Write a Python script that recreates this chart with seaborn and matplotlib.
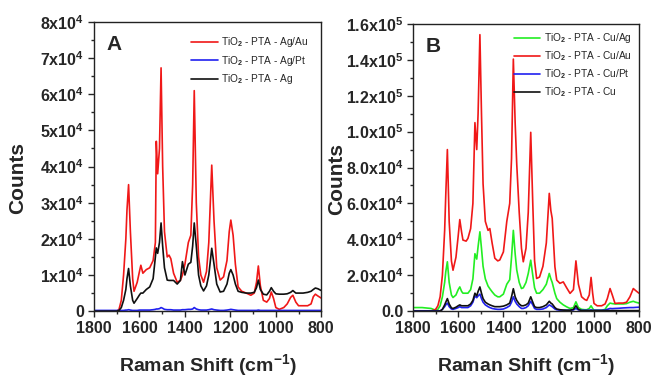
import numpy as np
import pandas as pd
import matplotlib
matplotlib.use("Agg")
import matplotlib.pyplot as plt
import seaborn as sns
from matplotlib.ticker import MultipleLocator

# ---- panel A data (counts in units of 1e4) ----
shift_a = [1800, 1750, 1700, 1690, 1680, 1670, 1660, 1655, 1648, 1640, 1630, 1624,
           1610, 1600, 1594, 1585, 1570, 1555, 1540, 1530, 1526, 1520, 1512, 1505,
           1498, 1490, 1478, 1470, 1462, 1450, 1434, 1420, 1411, 1400, 1385, 1374,
           1366, 1359, 1350, 1340, 1330, 1318, 1305, 1295, 1282, 1272, 1260, 1245,
           1230, 1215, 1205, 1198, 1188, 1178, 1166, 1150, 1130, 1110, 1095, 1085,
           1077, 1068, 1055, 1040, 1028, 1020, 1010, 1000, 985, 965, 950, 935,
           925, 912, 900, 880, 860, 845, 835, 826, 815, 800]
ag_au = [0, 0, 0, 0.05, 0.3, 1.0, 2.0, 2.8, 3.5, 2.2, 0.9, 0.55,
         0.8, 1.1, 1.27, 1.05, 1.15, 1.2, 1.4, 1.9, 4.7, 3.8, 4.5, 6.73,
         4.0, 2.2, 1.5, 1.55, 1.45, 1.05, 0.8, 0.85, 1.0, 1.3, 1.9, 2.1,
         3.5, 6.1, 3.0, 1.5, 1.0, 0.8, 1.1, 1.9, 4.04, 2.5, 1.2, 0.86,
         0.95, 1.4, 2.2, 2.52, 2.1, 1.3, 0.67, 0.55, 0.5, 0.44, 0.5, 0.8,
         1.25, 0.7, 0.3, 0.25, 0.35, 0.53, 0.35, 0.1, 0.05, 0.1, 0.2, 0.38,
         0.44, 0.25, 0.15, 0.15, 0.15, 0.2, 0.4, 0.47, 0.42, 0.36]
ag_pt = [0.02, 0.02, 0.02, 0.02, 0.02, 0.02, 0.03, 0.03, 0.04, 0.03, 0.02, 0.02,
         0.02, 0.03, 0.03, 0.03, 0.03, 0.03, 0.04, 0.05, 0.06, 0.06, 0.07, 0.1,
         0.08, 0.05, 0.04, 0.04, 0.04, 0.03, 0.03, 0.03, 0.04, 0.04, 0.05, 0.05,
         0.06, 0.1, 0.06, 0.04, 0.03, 0.03, 0.03, 0.04, 0.06, 0.04, 0.03, 0.02,
         0.02, 0.03, 0.04, 0.05, 0.04, 0.03, 0.02, 0.02, 0.02, 0.02, 0.02, 0.02,
         0.03, 0.02, 0.02, 0.02, 0.02, 0.02, 0.02, 0.02, 0.02, 0.02, 0.02, 0.02,
         0.02, 0.02, 0.02, 0.02, 0.02, 0.02, 0.02, 0.02, 0.02, 0.02]
ag = [0, 0, 0, 0.02, 0.1, 0.3, 0.6, 0.9, 1.18, 0.7, 0.3, 0.22,
      0.35, 0.45, 0.5, 0.5, 0.6, 0.67, 0.9, 1.5, 1.75, 1.6, 1.9, 2.44,
      1.8, 1.2, 0.86, 0.85, 0.85, 0.85, 0.75, 0.85, 1.37, 1.0, 1.3, 1.35,
      1.8, 2.44, 1.8, 1.0, 0.7, 0.56, 0.7, 1.0, 1.74, 1.3, 0.75, 0.53,
      0.55, 0.75, 1.05, 1.15, 1.0, 0.75, 0.55, 0.52, 0.5, 0.5, 0.52, 0.65,
      0.86, 0.6, 0.47, 0.45, 0.55, 0.65, 0.55, 0.48, 0.47, 0.47, 0.48, 0.52,
      0.57, 0.5, 0.5, 0.5, 0.52, 0.55, 0.6, 0.64, 0.62, 0.57]

# ---- panel B data (counts in units of 1e4) ----
shift_b = [1800, 1760, 1720, 1700, 1690, 1680, 1670, 1660, 1655, 1648, 1640, 1630,
           1623, 1610, 1600, 1593, 1585, 1579, 1565, 1557, 1545, 1535, 1526, 1518,
           1512, 1504, 1497, 1490, 1480, 1468, 1460, 1450, 1438, 1425, 1416, 1400,
           1385, 1372, 1364, 1356, 1348, 1341, 1330, 1320, 1312, 1300, 1290, 1279,
           1270, 1262, 1253, 1240, 1225, 1210, 1197, 1190, 1184, 1172, 1164, 1150,
           1135, 1120, 1105, 1090, 1079, 1068, 1054, 1040, 1031, 1020, 1012, 1005,
           999, 985, 965, 950, 940, 928, 918, 906, 890, 870, 855, 840, 825, 815, 800]
cu_ag = [0.2, 0.2, 0.15, 0.05, 0.1, 0.3, 0.8, 1.6, 2.2, 2.75, 1.6, 0.9,
         0.76, 0.9, 1.2, 1.35, 1.1, 1.0, 1.0, 1.0, 1.2, 1.8, 3.2, 2.9,
         3.6, 4.42, 3.5, 2.5, 1.8, 1.4, 1.25, 1.08, 0.9, 0.8, 0.8, 0.95,
         1.5, 1.75, 3.0, 4.5, 3.2, 2.3, 1.6, 1.26, 1.3, 1.6, 2.1, 2.84,
         2.0, 1.3, 1.0, 1.0, 1.2, 1.5, 2.1, 1.8, 1.6, 1.0, 0.7, 0.5,
         0.35, 0.24, 0.15, 0.2, 0.52, 0.2, 0.1, 0.08, 0.08, 0.15, 0.3, 0.15,
         0.05, 0.05, 0.05, 0.1, 0.3, 0.45, 0.42, 0.4, 0.4, 0.4, 0.42, 0.5, 0.55, 0.5, 0.45]
cu_au = [0, 0, 0, 0.1, 0.3, 0.8, 2.0, 4.5, 6.5, 9.0, 5.0, 2.8,
         2.28, 3.0, 4.2, 5.1, 4.4, 3.96, 3.9, 4.05, 4.6, 6.0, 10.5, 9.0,
         11.0, 15.4, 11.0, 7.1, 5.0, 4.5, 4.6, 3.8, 2.95, 2.8, 2.85, 3.3,
         5.0, 6.0, 8.5, 14.04, 10.5, 8.2, 5.5, 3.5, 2.75, 3.5, 5.5, 9.96,
         6.0, 2.8, 1.82, 1.9, 2.5, 3.8, 6.56, 5.6, 5.17, 2.47, 1.73, 1.55,
         1.63, 1.3, 0.99, 1.2, 2.8, 1.5, 0.8, 0.65, 0.6, 0.9, 1.88, 1.0,
         0.43, 0.3, 0.3, 0.4, 0.7, 1.26, 0.9, 0.43, 0.45, 0.45, 0.5, 0.8, 1.26, 1.15, 1.0]
cu_pt = [0.02, 0.02, 0.02, 0.02, 0.02, 0.02, 0.1, 0.25, 0.35, 0.45, 0.25, 0.12,
         0.1, 0.15, 0.2, 0.25, 0.2, 0.2, 0.2, 0.2, 0.3, 0.5, 0.85, 0.75,
         0.85, 0.95, 0.7, 0.5, 0.35, 0.25, 0.2, 0.15, 0.12, 0.1, 0.1, 0.12,
         0.2, 0.3, 0.5, 0.8, 0.55, 0.4, 0.25, 0.15, 0.15, 0.2, 0.3, 0.55,
         0.35, 0.15, 0.1, 0.1, 0.12, 0.2, 0.35, 0.3, 0.25, 0.12, 0.08, 0.05,
         0.05, 0.05, 0.05, 0.07, 0.15, 0.07, 0.05, 0.05, 0.05, 0.05, 0.07, 0.05,
         0.05, 0.05, 0.05, 0.06, 0.1, 0.15, 0.14, 0.15, 0.16, 0.18, 0.19, 0.2, 0.2, 0.21, 0.22]
cu = [0, 0, 0, 0, 0, 0, 0.1, 0.35, 0.5, 0.7, 0.4, 0.18,
      0.15, 0.22, 0.3, 0.35, 0.3, 0.3, 0.3, 0.3, 0.4, 0.6, 1.0, 0.85,
      1.1, 1.35, 1.0, 0.7, 0.5, 0.4, 0.35, 0.3, 0.25, 0.25, 0.25, 0.28,
      0.35, 0.45, 0.8, 1.25, 0.8, 0.6, 0.4, 0.3, 0.3, 0.35, 0.45, 0.8,
      0.5, 0.25, 0.2, 0.2, 0.25, 0.35, 0.55, 0.45, 0.4, 0.2, 0.12, 0.08,
      0.06, 0.05, 0.05, 0.1, 0.3, 0.1, 0.03, 0.03, 0.03, 0.03, 0.03, 0.03,
      0.03, 0.03, 0.03, 0.03, 0.03, 0.03, 0.03, 0.03, 0.03, 0.03, 0.03, 0.03, 0.03, 0.03, 0.03]

labels_a = [r"TiO$_2$ - PTA - Ag/Au", r"TiO$_2$ - PTA - Ag/Pt", r"TiO$_2$ - PTA - Ag"]
labels_b = [r"TiO$_2$ - PTA - Cu/Ag", r"TiO$_2$ - PTA - Cu/Au",
            r"TiO$_2$ - PTA - Cu/Pt", r"TiO$_2$ - PTA - Cu"]
colors_a = ["#f01818", "#2020f0", "#101010"]
colors_b = ["#22ee22", "#f01818", "#2020f0", "#101010"]

yticks_a = [0, 1e4, 2e4, 3e4, 4e4, 5e4, 6e4, 7e4, 8e4]
yticklabels_a = ["0"] + [r"%dx10$^\mathbf{4}$" % i for i in range(1, 9)]
yticks_b = [0, 2e4, 4e4, 6e4, 8e4, 1e5, 1.2e5, 1.4e5, 1.6e5]
yticklabels_b = ["0.0", r"2.0x10$^\mathbf{4}$", r"4.0x10$^\mathbf{4}$",
                 r"6.0x10$^\mathbf{4}$", r"8.0x10$^\mathbf{4}$", r"1.0x10$^\mathbf{5}$",
                 r"1.2x10$^\mathbf{5}$", r"1.4x10$^\mathbf{5}$", r"1.6x10$^\mathbf{5}$"]

sns.set_style("ticks")
plt.rcParams["font.family"] = ["Liberation Sans", "DejaVu Sans"]
plt.rcParams["font.weight"] = "bold"
plt.rcParams["mathtext.fontset"] = "custom"
plt.rcParams["mathtext.rm"] = "Liberation Sans"
plt.rcParams["mathtext.bf"] = "Liberation Sans:bold"
plt.rcParams["mathtext.it"] = "Liberation Sans:italic"


def make_long(shift, series, labels):
    frames = []
    for vals, lab in zip(series, labels):
        frames.append(pd.DataFrame({"shift": shift, "counts": np.array(vals) * 1e4, "sample": lab}))
    return pd.concat(frames, ignore_index=True)


df_a = make_long(shift_a, [ag_au, ag_pt, ag], labels_a)
df_b = make_long(shift_b, [cu_ag, cu_au, cu_pt, cu], labels_b)

fig = plt.figure(figsize=(6.53, 3.79), dpi=100)
ax_a = fig.add_axes([0.144, 0.179, 0.348, 0.763])
ax_b = fig.add_axes([0.6325, 0.179, 0.346, 0.758])

panels = [
    (ax_a, df_a, labels_a, colors_a, yticks_a, yticklabels_a, 8e4, 0.5e4, "A", 0.9, 0.45),
    (ax_b, df_b, labels_b, colors_b, yticks_b, yticklabels_b, 1.6e5, 1e4, "B", 0.35, 0.4),
]

for ax, df, labs, cols, yt, ytl, ymax, yminor, letter, lpad, lspace in panels:
    sns.lineplot(data=df, x="shift", y="counts", hue="sample", hue_order=labs,
                 palette=dict(zip(labs, cols)), estimator=None, linewidth=1.2, ax=ax)
    ax.set_xlim(1800, 800)
    ax.set_ylim(0, ymax)
    ax.set_xticks([1800, 1600, 1400, 1200, 1000, 800])
    ax.xaxis.set_minor_locator(MultipleLocator(100))
    ax.set_yticks(yt)
    ax.set_yticklabels(ytl)
    ax.yaxis.set_minor_locator(MultipleLocator(yminor))
    ax.tick_params(which="major", direction="out", length=4, width=1, labelsize=11.5, pad=3)
    ax.tick_params(which="minor", direction="out", length=2.5, width=1)
    for sp in ax.spines.values():
        sp.set_visible(True)
        sp.set_linewidth(1)
        sp.set_color("#222222")
    ax.set_xlabel(r"Raman Shift (cm$^\mathbf{-1}$)", fontsize=14, fontweight="bold", labelpad=12)
    ax.set_ylabel("Counts", fontsize=15, fontweight="bold")
    ax.yaxis.set_label_coords(-0.295, 0.46)
    ax.text(0.055, 0.955, letter, transform=ax.transAxes, fontsize=15,
            fontweight="bold", va="top", ha="left")
    handles, hl = ax.get_legend_handles_labels()
    ax.legend(handles, hl, loc="upper right", frameon=False,
              prop={"size": 7.3, "weight": "normal"}, handlelength=2.6,
              handletextpad=0.3, labelspacing=lspace, borderaxespad=lpad)

fig.savefig("out.png", dpi=100)
